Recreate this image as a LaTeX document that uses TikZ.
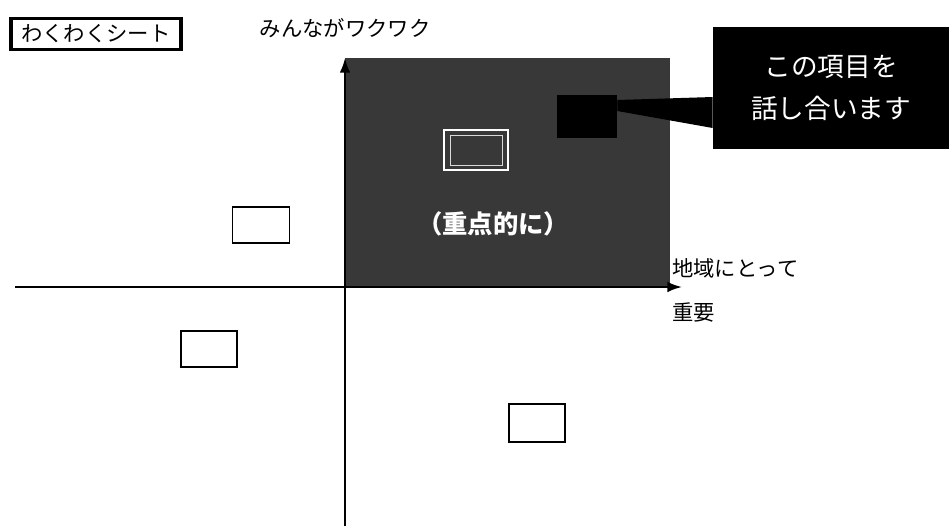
\documentclass[tikz,border=0pt]{standalone}
\usepackage{fontspec}
\setmainfont{Noto Sans CJK JP}
\usetikzlibrary{arrows.meta}
\tikzset{
  axis/.style={line width=1.6pt, -{Latex[length=11pt,width=8pt]}},
  wbox/.style={draw=black, line width=1.2pt, fill=white, inner sep=0pt},
  lbl/.style={inner sep=0pt, font=\fontsize{16}{18}\selectfont},
  sz/.style 2 args={minimum width={#1*0.75pt}, minimum height={#2*0.75pt}},
}
\begin{document}
\begin{tikzpicture}[x=0.75pt,y=-0.75pt]
\useasboundingbox (0,0) rectangle (952,526);
% gray quadrant
\fill[black!78] (345,58) rectangle (670,287);
% axes
\coordinate (yb) at (345,526);
\coordinate (yt) at (345,58);
\coordinate (xl) at (15,287);
\coordinate (xr) at (682,287);
\draw[axis] (yb) -- (yt);
\draw[axis] (xl) -- (xr);
% title
\node[draw=black, line width=2.5pt, inner sep=0pt, sz={170}{31}, font=\fontsize{16}{18}\selectfont] (title) at (96,34) {わくわくシート};
\node[lbl] (top) at (345,28) {みんながワクワク};
\node[lbl, anchor=west] (right1) at (672,268) {地域にとって};
\node[lbl, anchor=west] (right2) at (672,312) {重要};
% boxes in white area
\node[wbox, sz={57}{36}] (b1) at (261,225) {};
\node[wbox, sz={56}{36}] (b2) at (209,349) {};
\node[wbox, sz={56}{38}] (b3) at (537,423) {};
% box in gray area
\node[draw=white, line width=1.3pt, sz={64}{40}, inner sep=0pt] (b4) at (476,150) {};
\node[draw=white!85!black, line width=0.6pt, sz={52}{30}, inner sep=0pt] (b4i) at (476,150) {};
\node[text=white, inner sep=0pt, font=\fontsize{19}{22}\selectfont\bfseries] (jp) at (493,224) {（重点的に）};
% black square and callout
\node[fill=black, sz={60}{43}, inner sep=0pt] (sq) at (587,116) {};
\node[fill=black, sz={236}{122}, inner sep=0pt, align=center, text=white, font=\fontsize{20}{32}\selectfont] (call) at (831,88) {この項目を\\話し合います};
\fill[black] (sq.east |- 0,100) -- (call.west |- 0,97) -- (call.west |- 0,128) -- (sq.east |- 0,111) -- cycle;
\end{tikzpicture}
\end{document}
